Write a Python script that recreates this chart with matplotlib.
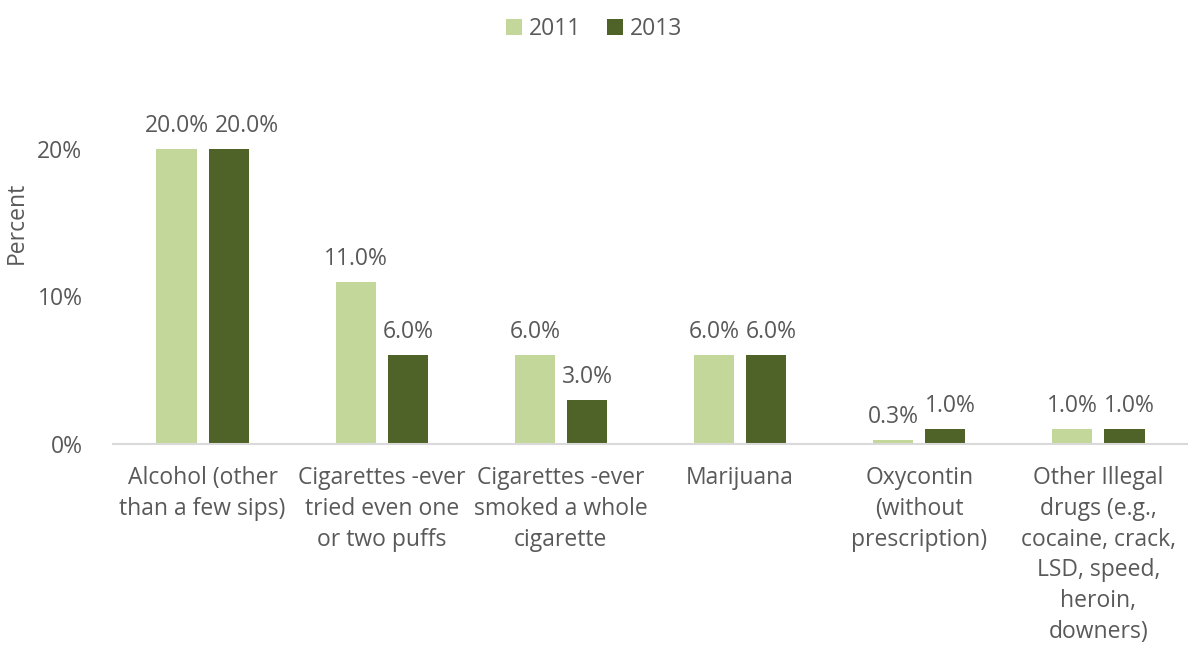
import matplotlib
matplotlib.use("Agg")
import matplotlib.pyplot as plt
from matplotlib.transforms import offset_copy
import numpy as np

categories = [
    "Alcohol (other\nthan a few sips)",
    "Cigarettes -ever\ntried even one\nor two puffs",
    "Cigarettes -ever\nsmoked a whole\ncigarette",
    "Marijuana",
    "Oxycontin\n(without\nprescription)",
    "Other Illegal\ndrugs (e.g.,\ncocaine, crack,\nLSD, speed,\nheroin,\ndowners)",
]
series_names = ["2011", "2013"]
values_2011 = [20.0, 11.0, 6.0, 6.0, 0.3, 1.0]
values_2013 = [20.0, 6.0, 3.0, 6.0, 1.0, 1.0]
yticks = [0, 10, 20]

colors = ["#C4D79B", "#4F6228"]
text_color = "#595959"
fs = 16.5
plt.rcParams["font.family"] = ["Open Sans", "DejaVu Sans"]

fig = plt.figure(figsize=(11.88, 6.54), dpi=100)
ax = fig.add_axes([113 / 1188, (654 - 444) / 654, 1 - 113 / 1188, (444 - 75) / 654])

x = np.arange(len(categories))
w = 0.224
off = 0.1455
labels = []
for i, (vals, name) in enumerate(zip([values_2011, values_2013], series_names)):
    pos = x + (-off if i == 0 else off)
    bars = ax.bar(pos, vals, width=w, color=colors[i], label=name)
    row = []
    for b, v in zip(bars, vals):
        t = ax.text(b.get_x() + b.get_width() / 2, v + 0.75, f"{v:.1f}%",
                    ha="center", va="bottom", fontsize=fs, color=text_color)
        row.append(t)
    labels.append(row)

ax.set_xlim(-0.5, len(categories) - 0.5)
ax.set_ylim(0, 25)
ax.set_yticks(yticks)
ax.set_yticklabels([f"{t}%" for t in yticks], fontsize=fs, color=text_color)
ax.set_xticks(x)
ax.set_xticklabels(categories, fontsize=fs, color=text_color, linespacing=1.37, va="top")
ax.tick_params(axis="both", length=0)
ax.tick_params(axis="y", pad=22)
ax.tick_params(axis="x", pad=16)
for s in ["top", "right", "left"]:
    ax.spines[s].set_visible(False)
ax.spines["bottom"].set_color("#D9D9D9")
ax.spines["bottom"].set_linewidth(1.5)
ax.set_ylabel("Percent", fontsize=fs, color=text_color)
ax.yaxis.set_label_coords(-0.078, 0.6)

fig.legend(loc="upper center", bbox_to_anchor=(0.5, 1.005), ncol=2, frameon=False,
           fontsize=fs, labelcolor=text_color, handlelength=0.7, handleheight=0.7,
           handletextpad=0.3, columnspacing=1.1)

# Nudge a value label sideways when it would collide with its neighbour
fig.canvas.draw()
renderer = fig.canvas.get_renderer()
for left, right in zip(labels[0], labels[1]):
    bl = left.get_window_extent(renderer)
    br = right.get_window_extent(renderer)
    vertical_overlap = bl.y0 < br.y1 and br.y0 < bl.y1
    gap = br.x0 - bl.x1
    if vertical_overlap and gap < 6:
        shift = 6 - gap
        right.set_transform(offset_copy(right.get_transform(), fig=fig,
                                        x=shift, units="dots"))

fig.savefig("out.png", dpi=100)
